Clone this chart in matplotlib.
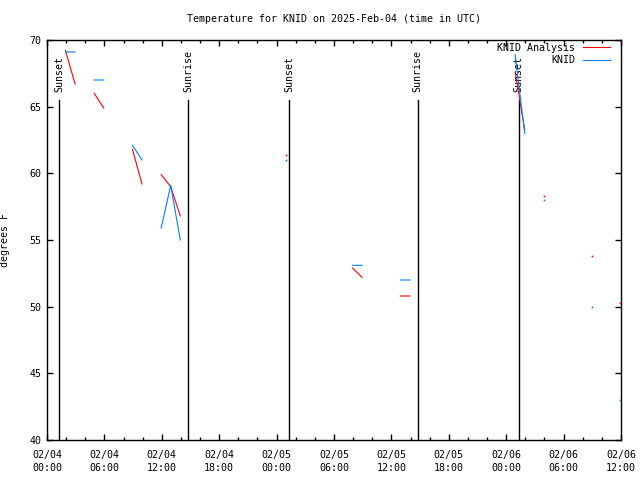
import numpy as np
import pandas as pd
import matplotlib
matplotlib.use("Agg")
import matplotlib.pyplot as plt
import matplotlib.dates as mdates

# hourly obs (UTC), gaps are missing hours
obs_times = ["2025-02-04 01:56", "2025-02-04 02:56", "2025-02-04 04:56", "2025-02-04 05:56",
             "2025-02-04 08:56", "2025-02-04 09:56", "2025-02-04 11:56", "2025-02-04 12:56",
             "2025-02-04 13:56", "2025-02-05 00:56", "2025-02-05 07:56", "2025-02-05 08:56",
             "2025-02-05 12:56", "2025-02-05 13:56", "2025-02-06 00:56", "2025-02-06 01:56",
             "2025-02-06 03:56", "2025-02-06 08:56", "2025-02-06 11:56"]
knid_temp = [69.1, 69.1, 67.0, 67.0, 62.1, 61.0, 55.9, 59.1, 55.0, 61.0,
             53.1, 53.1, 52.0, 52.0, 68.9, 63.0, 58.0, 50.0, 43.0]
analysis_temp = [69.2, 66.7, 66.0, 64.9, 61.8, 59.2, 59.9, 59.0, 56.8, 61.4,
                 52.9, 52.2, 50.8, 50.8, 67.6, 63.3, 58.3, 53.8, 50.3]

sun_times = ["2025-02-04 01:17", "2025-02-04 14:45", "2025-02-05 01:18",
             "2025-02-05 14:44", "2025-02-06 01:19"]
sun_labels = ["Sunset", "Sunrise", "Sunset", "Sunrise", "Sunset"]

plt.rcParams['font.family'] = 'DejaVu Sans Mono'
plt.rcParams['font.size'] = 7.2

fig = plt.figure(figsize=(6.4, 4.8), dpi=100)
ax = fig.add_axes([47/640, 40/480, 574/640, 400/480])

idx = pd.to_datetime(obs_times)
analysis = pd.Series(analysis_temp, index=idx).asfreq("h")
knid = pd.Series(knid_temp, index=idx).asfreq("h")

for s, color, name in [(analysis, "#ff0000", "KNID Analysis"), (knid, "#0080ff", "KNID")]:
    ax.plot(s.index, s.values, color=color, lw=0.8, label=name, zorder=3)
    # single obs (no neighbours) show up as dots
    lone = s[s.notna() & s.shift(1).isna() & s.shift(-1).isna()]
    ax.plot(lone.index, lone.values, ls="none", marker="s", ms=1.2, mew=0,
            color=color, zorder=3, clip_on=False)

for t, name in zip(sun_times, sun_labels):
    t = pd.Timestamp(t)
    ax.axvline(t, ymin=0, ymax=0.85, color="black", lw=1.0, zorder=1)
    ax.text(t, 0.87, name, transform=ax.get_xaxis_transform(), rotation=90,
            ha="center", va="bottom", zorder=1)

ax.set_xlim(pd.Timestamp("2025-02-04 00:00"), pd.Timestamp("2025-02-06 12:00"))
ax.set_ylim(40, 70)
ax.set_yticks(range(40, 71, 5))
ax.xaxis.set_major_locator(mdates.HourLocator(byhour=range(0, 24, 6)))
ax.xaxis.set_minor_locator(mdates.HourLocator(byhour=range(0, 24, 2)))
ax.xaxis.set_major_formatter(mdates.DateFormatter("%m/%d\n%H:%M"))
ax.tick_params(which="both", direction="in", top=True, right=True)
ax.tick_params(which="major", length=4.3, width=1)
ax.tick_params(which="minor", length=2.2, width=1)
ax.tick_params(axis="x", pad=7)
ax.tick_params(axis="y", pad=4)
for lbl in ax.get_xticklabels():
    lbl.set_linespacing(1.4)
for sp in ax.spines.values():
    sp.set_linewidth(1)

ax.set_ylabel("degrees F")
ax.yaxis.set_label_coords(-0.064, 0.5)
ax.set_title("Temperature for KNID on 2025-Feb-04 (time in UTC)", fontsize=7.2, pad=13)

ax.legend(loc="upper right", bbox_to_anchor=(0.981, 0.9925), frameon=False,
          markerfirst=False, borderpad=0, borderaxespad=0, handlelength=2.7,
          handletextpad=0.8, labelspacing=0.25)

fig.savefig("out.png", dpi=100)
